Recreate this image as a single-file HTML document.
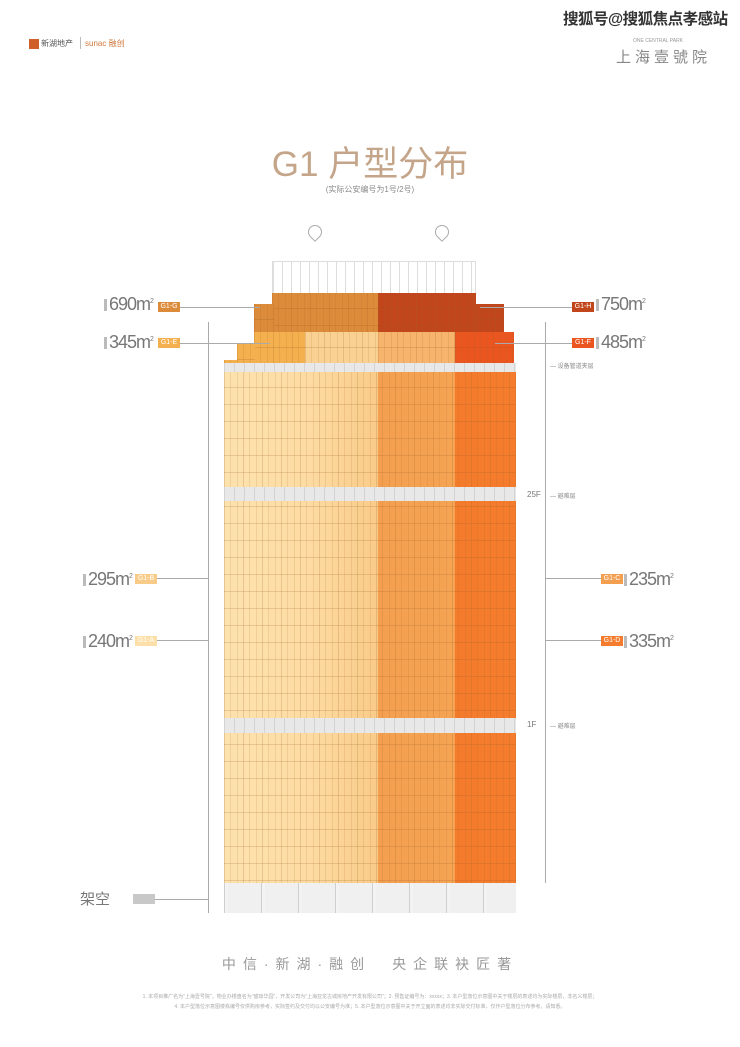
<!DOCTYPE html>
<html><head><meta charset="utf-8"><style>
*{margin:0;padding:0;box-sizing:border-box}
body{width:740px;height:1047px;background:#fff;position:relative;overflow:hidden;font-family:"Liberation Sans","Noto Sans CJK SC",sans-serif;color:#666}
.a{position:absolute;white-space:nowrap}
.grid{background-image:repeating-linear-gradient(180deg,rgba(150,90,30,.0) 0 15px,rgba(150,90,30,.22) 15px 16px,rgba(150,90,30,0) 16px 17px),repeating-linear-gradient(90deg,rgba(160,100,40,.22) 0 1px,rgba(0,0,0,0) 1px 6px,rgba(160,100,40,.15) 6px 7px,rgba(0,0,0,0) 7px 13px,rgba(160,100,40,.15) 13px 14px,rgba(0,0,0,0) 14px 19px)}
.num{font-size:18px;color:#777;letter-spacing:-1px}
.num sup{font-size:7px}
.pre{display:inline-block;width:3px;height:12px;background:#bbb;margin-right:2px;vertical-align:-1px}
.tag{font-size:7px;color:#fff;text-align:center;line-height:10px;height:10px;width:22px}
.ln{height:1px;background:#aaa}
.vl{width:1px;background:#aaa}
.band{background:#e8e8e8;background-image:repeating-linear-gradient(90deg,#d3d3d3 0 1px,transparent 1px 10px)}
</style></head><body>
<div class="a" style="left:563px;top:7px;font-size:15.5px;color:#333;font-weight:bold;letter-spacing:-0.5px">搜狐号@搜狐焦点孝感站</div>
<div class="a" style="left:29px;top:39px;width:10px;height:10px;background:#d0602a"></div>
<div class="a" style="left:41px;top:38px;font-size:8px;color:#555">新湖地产</div>
<div class="a" style="left:80px;top:37px;width:1px;height:12px;background:#bbb"></div>
<div class="a" style="left:85px;top:38px;font-size:8px;color:#d07a40">sunac 融创</div>
<div class="a" style="left:633px;top:38px;font-size:5px;color:#999">ONE CENTRAL PARK</div>
<div class="a" style="left:616px;top:46px;font-size:15px;color:#888;letter-spacing:4px">上海壹號院</div>
<div class="a" style="left:0;width:740px;top:136px;text-align:center;font-size:35px;color:#c4a58a;letter-spacing:0px">G1 户型分布</div>
<div class="a" style="left:0;width:740px;top:184px;text-align:center;font-size:8px;color:#888">(实际公安编号为1号/2号)</div>
<div class="a" style="left:308px;top:225px;width:14px;height:14px;border:1px solid #aaa;border-radius:50% 50% 50% 0;transform:rotate(-45deg)"></div>
<div class="a" style="left:435px;top:225px;width:14px;height:14px;border:1px solid #aaa;border-radius:50% 50% 50% 0;transform:rotate(-45deg)"></div>
<div class="a" style="left:272px;top:261px;width:204px;height:34px;border:1px solid #ddd;background-image:repeating-linear-gradient(90deg,#ddd 0 1px,transparent 1px 9px)"></div>
<div class="a grid" style="left:272px;top:293px;width:106px;height:40px;background-color:#dc8b3a"></div>
<div class="a grid" style="left:254px;top:304px;width:20px;height:29px;background-color:#dc8b3a"></div>
<div class="a grid" style="left:378px;top:293px;width:98px;height:40px;background-color:#c2461b"></div>
<div class="a grid" style="left:476px;top:304px;width:28px;height:29px;background-color:#c2461b"></div>
<div class="a grid" style="left:254px;top:332px;width:51px;height:40px;background-color:#f4b04e"></div>
<div class="a grid" style="left:237px;top:344px;width:18px;height:28px;background-color:#f4b04e"></div>
<div class="a grid" style="left:224px;top:360px;width:14px;height:12px;background-color:#f4b04e"></div>
<div class="a grid" style="left:305px;top:332px;width:73px;height:40px;background-color:#f9d293"></div>
<div class="a grid" style="left:378px;top:332px;width:77px;height:40px;background-color:#f6b46c"></div>
<div class="a grid" style="left:455px;top:332px;width:59px;height:40px;background-color:#ea5520"></div>
<div class="a" style="left:224px;top:372px;width:292px;height:511px;background-image:repeating-linear-gradient(180deg,rgba(150,90,30,0) 0 15px,rgba(150,90,30,.2) 15px 16px,rgba(150,90,30,0) 16px 17px),repeating-linear-gradient(90deg,rgba(160,100,40,.22) 0 1px,rgba(0,0,0,0) 1px 6px,rgba(160,100,40,.14) 6px 7px,rgba(0,0,0,0) 7px 13px,rgba(160,100,40,.14) 13px 14px,rgba(0,0,0,0) 14px 19px),linear-gradient(90deg,#fde2ae 0,#fddca3 80px,#f9cb88 154px,#f39f4f 154px,#f5a454 231px,#f47b2b 231px,#f47c2c 292px)"></div>
<div class="a band" style="left:224px;top:363px;width:292px;height:9px"></div>
<div class="a band" style="left:224px;top:487px;width:292px;height:14px"></div>
<div class="a band" style="left:224px;top:718px;width:292px;height:15px"></div>
<div class="a" style="left:224px;top:883px;width:292px;height:30px;background:#e9e9e9;background-image:repeating-linear-gradient(90deg,#cfcfcf 0 1px,#f3f3f3 1px 4px,#f0f0f0 4px 37px)"></div>
<div class="a vl" style="left:208px;top:322px;height:591px"></div>
<div class="a vl" style="left:545px;top:322px;height:561px"></div>
<div class="a num" style="left:104px;top:294px"><span class="pre"></span>690m<sup>2</sup></div>
<div class="a tag" style="left:158px;top:302px;background:#dc8b3a">G1-G</div>
<div class="a ln" style="left:180px;top:307px;width:80px"></div>
<div class="a num" style="left:104px;top:332px"><span class="pre"></span>345m<sup>2</sup></div>
<div class="a tag" style="left:158px;top:338px;background:#f4b04e">G1-E</div>
<div class="a ln" style="left:180px;top:343px;width:90px"></div>
<div class="a num" style="left:83px;top:569px"><span class="pre"></span>295m<sup>2</sup></div>
<div class="a tag" style="left:135px;top:574px;background:#f9cb88">G1-B</div>
<div class="a ln" style="left:157px;top:578px;width:51px"></div>
<div class="a num" style="left:83px;top:631px"><span class="pre"></span>240m<sup>2</sup></div>
<div class="a tag" style="left:135px;top:636px;background:#fde0a9">G1-A</div>
<div class="a ln" style="left:157px;top:640px;width:51px"></div>
<div class="a" style="left:80px;top:888px;font-size:15px;color:#777">架空</div>
<div class="a" style="left:133px;top:894px;width:22px;height:10px;background:#c8c8c8"></div>
<div class="a ln" style="left:155px;top:899px;width:53px"></div>
<div class="a ln" style="left:480px;top:307px;width:92px"></div>
<div class="a tag" style="left:572px;top:302px;background:#c2461b">G1-H</div>
<div class="a num" style="left:596px;top:294px"><span class="pre"></span>750m<sup>2</sup></div>
<div class="a ln" style="left:495px;top:343px;width:77px"></div>
<div class="a tag" style="left:572px;top:338px;background:#ea5520">G1-F</div>
<div class="a num" style="left:596px;top:332px"><span class="pre"></span>485m<sup>2</sup></div>
<div class="a ln" style="left:545px;top:578px;width:56px"></div>
<div class="a tag" style="left:601px;top:574px;background:#f39f4f">G1-C</div>
<div class="a num" style="left:624px;top:569px"><span class="pre"></span>235m<sup>2</sup></div>
<div class="a ln" style="left:545px;top:640px;width:56px"></div>
<div class="a tag" style="left:601px;top:636px;background:#f47c2c">G1-D</div>
<div class="a num" style="left:624px;top:631px"><span class="pre"></span>335m<sup>2</sup></div>
<div class="a" style="left:550px;top:361px;font-size:6px;color:#888">— 设备管道夹层</div>
<div class="a" style="left:527px;top:490px;font-size:8px;color:#777">25F</div>
<div class="a" style="left:550px;top:491px;font-size:6px;color:#888">— 避难层</div>
<div class="a" style="left:527px;top:720px;font-size:8px;color:#777">1F</div>
<div class="a" style="left:550px;top:721px;font-size:6px;color:#888">— 避难层</div>
<div class="a" style="left:0;width:740px;top:954px;text-align:center;font-size:14px;color:#999;letter-spacing:7px">中信·新湖·融创　央企联袂匠著</div>
<div class="a" style="left:0;width:740px;top:992px;text-align:center;font-size:5px;color:#aaa;line-height:10px">1. 本项目推广名为"上海壹号院"，物业办楼盘名为"盛琼华园"，开发公司为"上海亚龙古城房地产开发有限公司"；2. 预售证编号为：xxxxx；3. 本户型落位示意图中关于楼层的表述均为实际楼层，非名义楼层；<br>4. 本户型落位示意图楼栋编号仅供购房参考，实际签约及交付均以公安编号为准；5. 本户型落位示意图中关于开立面的表述均非实际交付标准，仅作户型落位分布参考，请知悉。</div>
</body></html>
